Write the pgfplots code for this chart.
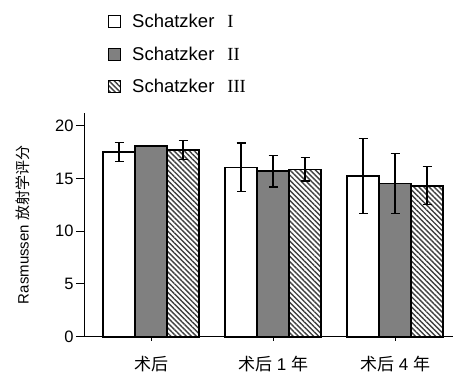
\documentclass[border=0pt]{standalone}
\usepackage{fontspec}
\setmainfont{Liberation Sans}
\newfontfamily\cjk{Noto Sans CJK SC}
\newfontfamily\rom{Liberation Serif}
\usepackage{pgfplots}
\pgfplotsset{compat=1.18}
\usetikzlibrary{patterns.meta}
\definecolor{bargray}{HTML}{808080}
\begin{document}
\begin{tikzpicture}
\begin{axis}[
 scale only axis, width=369pt, height=223.7pt,
 ymin=0, ymax=21.2, xmin=-0.55, xmax=2.475,
 ybar=0pt, bar width=32pt,
 axis x line*=bottom, axis y line*=left,
 axis line style={line width=1pt, -},
 xtick={0,1,2},
 xticklabels={{\cjk 术后},{\cjk 术后} 1 {\cjk 年},{\cjk 术后} 4 {\cjk 年}},
 ytick={0,5,10,15,20},
 tick align=outside,
 major tick length=8pt,
 xtick style={/pgfplots/major tick length=4pt, line width=1pt, black},
 ytick style={line width=1pt, black},
 /pgf/number format/assume math mode=true,
 yticklabel style={font=\fontsize{16.5}{19}\selectfont, xshift=1pt},
 xticklabel style={font=\fontsize{17}{20}\selectfont, yshift=-8pt},
 ylabel={Rasmussen {\cjk 放射学评分}},
 ylabel style={font=\fontsize{15}{18}\selectfont, at={(axis description cs:0,0.5)}, anchor=center, yshift=61pt},
 legend style={at={(axis description cs:0.065,1.447)}, anchor=north west, draw=none, fill=none,
   font=\fontsize{18.5}{21}\selectfont, row sep=15.5pt, inner sep=0pt,
   nodes={inner sep=1pt},
   /tikz/every odd column/.append style={column sep=10pt}},
 legend cell align=left,
 legend image code/.code={\draw[#1, line width=1pt] (0pt,-6pt) rectangle (12pt,6pt);},
 error bars/error bar style={line width=1.3pt, black},
 error bars/error mark options={rotate=90, mark size=4.5pt, line width=1.3pt, black},
 clip=false,
]
\addplot[draw=black, line width=1.6pt, fill=white,
  error bars/.cd, y dir=both, y explicit]
 coordinates {(0,17.5) +- (0,0.9) (1,16.05) +- (0,2.3) (2,15.25) +- (0,3.55)};
\addplot[draw=black, line width=1.6pt, fill=bargray,
  error bars/.cd, y dir=both, y explicit]
 coordinates {(0,18.1) +- (0,0) (1,15.7) +- (0,1.5) (2,14.5) +- (0,2.85)};
\addplot[draw=black, line width=1.6pt, pattern={Lines[angle=-45, distance=3.6pt, line width=1.4pt]}, pattern color=black!75,
  error bars/.cd, y dir=both, y explicit]
 coordinates {(0,17.7) +- (0,0.9) (1,15.85) +- (0,1.1) (2,14.3) +- (0,1.8)};
\legend{Schatzker\hspace{0.7em}{\rom I}, Schatzker\hspace{0.7em}{\rom II}, Schatzker\hspace{0.7em}{\rom III}}
\end{axis}
\pgfresetboundingbox
\useasboundingbox (-84pt,-37.3pt) rectangle (370pt,336.7pt);
\end{tikzpicture}
\end{document}
